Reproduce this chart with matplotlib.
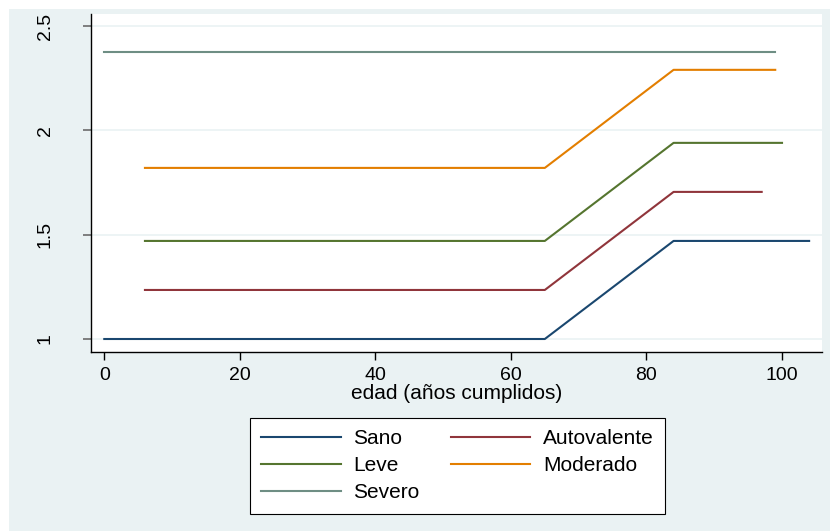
import matplotlib as mpl
import matplotlib.pyplot as plt
from matplotlib.patches import Rectangle

# valores (edad, indice)
sano_x = [0, 65, 84, 104]
sano_y = [1.00, 1.00, 1.47, 1.47]

autov_x = [6, 65, 84, 97]
autov_y = [1.235, 1.235, 1.705, 1.705]

leve_x = [6, 65, 84, 100]
leve_y = [1.47, 1.47, 1.94, 1.94]

mod_x = [6, 65, 84, 99]
mod_y = [1.82, 1.82, 2.29, 2.29]

sev_x = [0, 99]
sev_y = [2.376, 2.376]

xticks = [0, 20, 40, 60, 80, 100]
yticks = [1, 1.5, 2, 2.5]
ytick_labels = ['1', '1.5', '2', '2.5']

plt.rcParams['font.family'] = ['Liberation Sans', 'DejaVu Sans']
plt.rcParams['font.size'] = 14

bg = '#EAF2F3'

fig = plt.figure(figsize=(8.3, 5.31), dpi=100, facecolor='white')
#fondo azulado de Stata
fig.patches.append(Rectangle((9/830, 0), 1, 1 - 9/531, transform=fig.transFigure,
                             facecolor=bg, edgecolor='none', zorder=-10))

ax = fig.add_axes([91/830, 1 - 352/531, (822 - 91)/830, (352 - 14)/531])
ax.set_zorder(5)
ax.set_facecolor('white')

ax.plot(sano_x, sano_y, color='#1a476f', lw=1.5, label='Sano')
ax.plot(autov_x, autov_y, color='#90353b', lw=1.5, label='Autovalente')
ax.plot(leve_x, leve_y, color='#55752f', lw=1.5, label='Leve')
ax.plot(mod_x, mod_y, color='#e37e00', lw=1.5, label='Moderado')
ax.plot(sev_x, sev_y, color='#6e8e84', lw=1.5, label='Severo')

ax.set_xlim(-1.96, 105.9)
ax.set_ylim(0.9377, 2.5576)

ax.set_xticks(xticks)
ax.set_yticks(yticks)
ax.set_yticklabels(ytick_labels, rotation=90, va='center')

for y in yticks:
    ax.axhline(y, color=bg, lw=1.2, zorder=0)

for s in ['top', 'right']:
    ax.spines[s].set_visible(False)
ax.spines['left'].set_linewidth(1.0)
ax.spines['bottom'].set_linewidth(1.0)

ax.tick_params(axis='y', length=5.8, width=1.2, color='#6b6b6b', pad=21)
ax.tick_params(axis='x', length=5.8, width=1.0, color='black', pad=5)

ax.set_xlabel('edad (años cumplidos)', fontsize=15, labelpad=0)

# orden por filas como en Stata
h, l = ax.get_legend_handles_labels()
orden = [0, 2, 4, 1, 3]
leg = fig.legend([h[i] for i in orden], [l[i] for i in orden], ncol=2, loc='upper left',
                 bbox_to_anchor=(250/830, 1 - 418/531), fontsize=15,
                 borderaxespad=0, fancybox=False, framealpha=1,
                 edgecolor='black', handlelength=3.8, handletextpad=0.62,
                 columnspacing=1.5, labelspacing=0.38, borderpad=0.55)
leg.get_frame().set_linewidth(0.8)
leg.set_zorder(6)

fig.savefig('out.png', dpi=100)
